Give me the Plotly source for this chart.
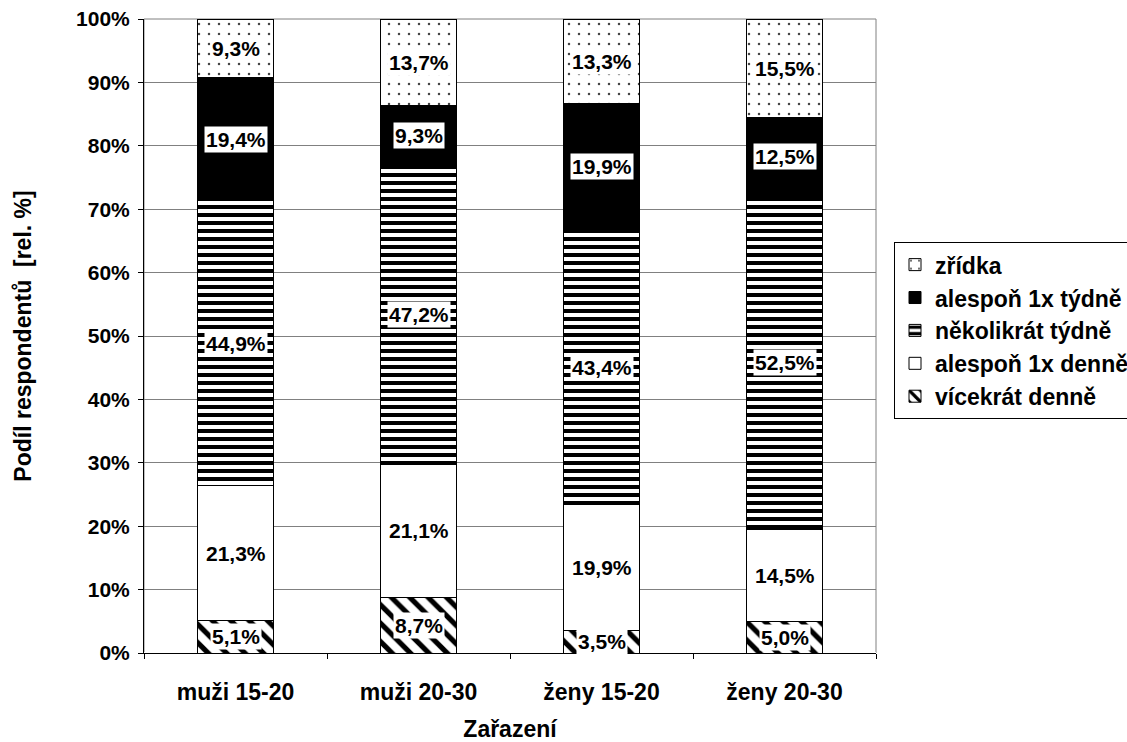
import plotly.graph_objects as go
import numpy as np

categories = ["muži 15-20", "muži 20-30", "ženy 15-20", "ženy 20-30"]
series_names = ["vícekrát denně", "alespoň 1x denně", "několikrát týdně", "alespoň 1x týdně", "zřídka"]
vicekrat_denne = [5.1, 8.7, 3.5, 5.0]
alespon_denne = [21.3, 21.1, 19.9, 14.5]
nekolikrat_tydne = [44.9, 47.2, 43.4, 52.5]
alespon_tydne = [19.4, 9.3, 19.9, 12.5]
zridka = [9.3, 13.7, 13.3, 15.5]
y_ticks = [0, 10, 20, 30, 40, 50, 60, 70, 80, 90, 100]
y_tick_labels = [f"{v}%" for v in y_ticks]

series = [vicekrat_denne, alespon_denne, nekolikrat_tydne, alespon_tydne, zridka]
styles = [
    dict(color="white", pattern=dict(shape="\\", fgcolor="black", bgcolor="white", fgopacity=1, size=13, solidity=0.4)),
    dict(color="white"),
    dict(color="white", pattern=dict(shape="-", fgcolor="black", bgcolor="white", fgopacity=1, size=8, solidity=0.5)),
    dict(color="black"),
    dict(color="white", pattern=dict(shape=".", fgcolor="#444444", bgcolor="white", fgopacity=1, size=10, solidity=0.05)),
]

FONT = "Liberation Sans, Arial, sans-serif"
fig = go.Figure()
for i, (name, vals, st) in enumerate(zip(series_names, series, styles)):
    fig.add_trace(go.Bar(
        x=categories, y=vals, name=name, legendgroup=name,
        marker=dict(line=dict(color="black", width=1), **st),
        width=0.41,
    ))

cum = np.zeros(len(categories))
for vals in series:
    v = np.array(vals)
    mid = cum + v / 2
    for c, m, val in zip(categories, mid, v):
        fig.add_annotation(x=c, y=m, text=f"{val:.1f}%".replace(".", ","), showarrow=False,
                           font=dict(family=FONT, size=21, color="black", weight="bold"),
                           bgcolor="white", borderpad=1)
    cum += v

# grey plot-area frame
fig.add_shape(type="rect", xref="paper", yref="paper", x0=0, x1=1, y0=0, y1=1,
              line=dict(color="#808080", width=1), layer="below")

fig.update_layout(
    barmode="stack", width=1127, height=742,
    paper_bgcolor="white", plot_bgcolor="white",
    margin=dict(l=144, r=251, t=19, b=89, autoexpand=False),
    font=dict(family=FONT, size=21, color="black", weight="bold"),
    legend=dict(traceorder="reversed", x=1.0246, y=0.648, xanchor="left", yanchor="top",
                bordercolor="black", borderwidth=1, tracegroupgap=10,
                font=dict(family=FONT, size=23, weight="bold"), itemwidth=30),
)
fig.update_xaxes(tickson="boundaries", ticks="outside", ticklen=5, tickcolor="black",
                 showline=True, linecolor="black", linewidth=1, ticklabelstandoff=18,
                 title=dict(text="Zařazení", font=dict(size=23, weight="bold"), standoff=23),
                 tickfont=dict(size=23, weight="bold"))
fig.update_yaxes(range=[0, 100], tickmode="array", tickvals=y_ticks, ticktext=y_tick_labels,
                 ticks="outside", ticklen=5, ticklabelstandoff=4,
                 tickcolor="black", showline=True, linecolor="black", linewidth=1,
                 showgrid=True, gridcolor="#808080", gridwidth=1,
                 title=dict(text="Podíl respondentů  [rel. %]", font=dict(size=23, weight="bold"), standoff=38),
                 tickfont=dict(size=21, weight="bold"))
fig.write_html("out.html", config={"displayModeBar": False},
               post_script="document.body.style.margin='0px';")
